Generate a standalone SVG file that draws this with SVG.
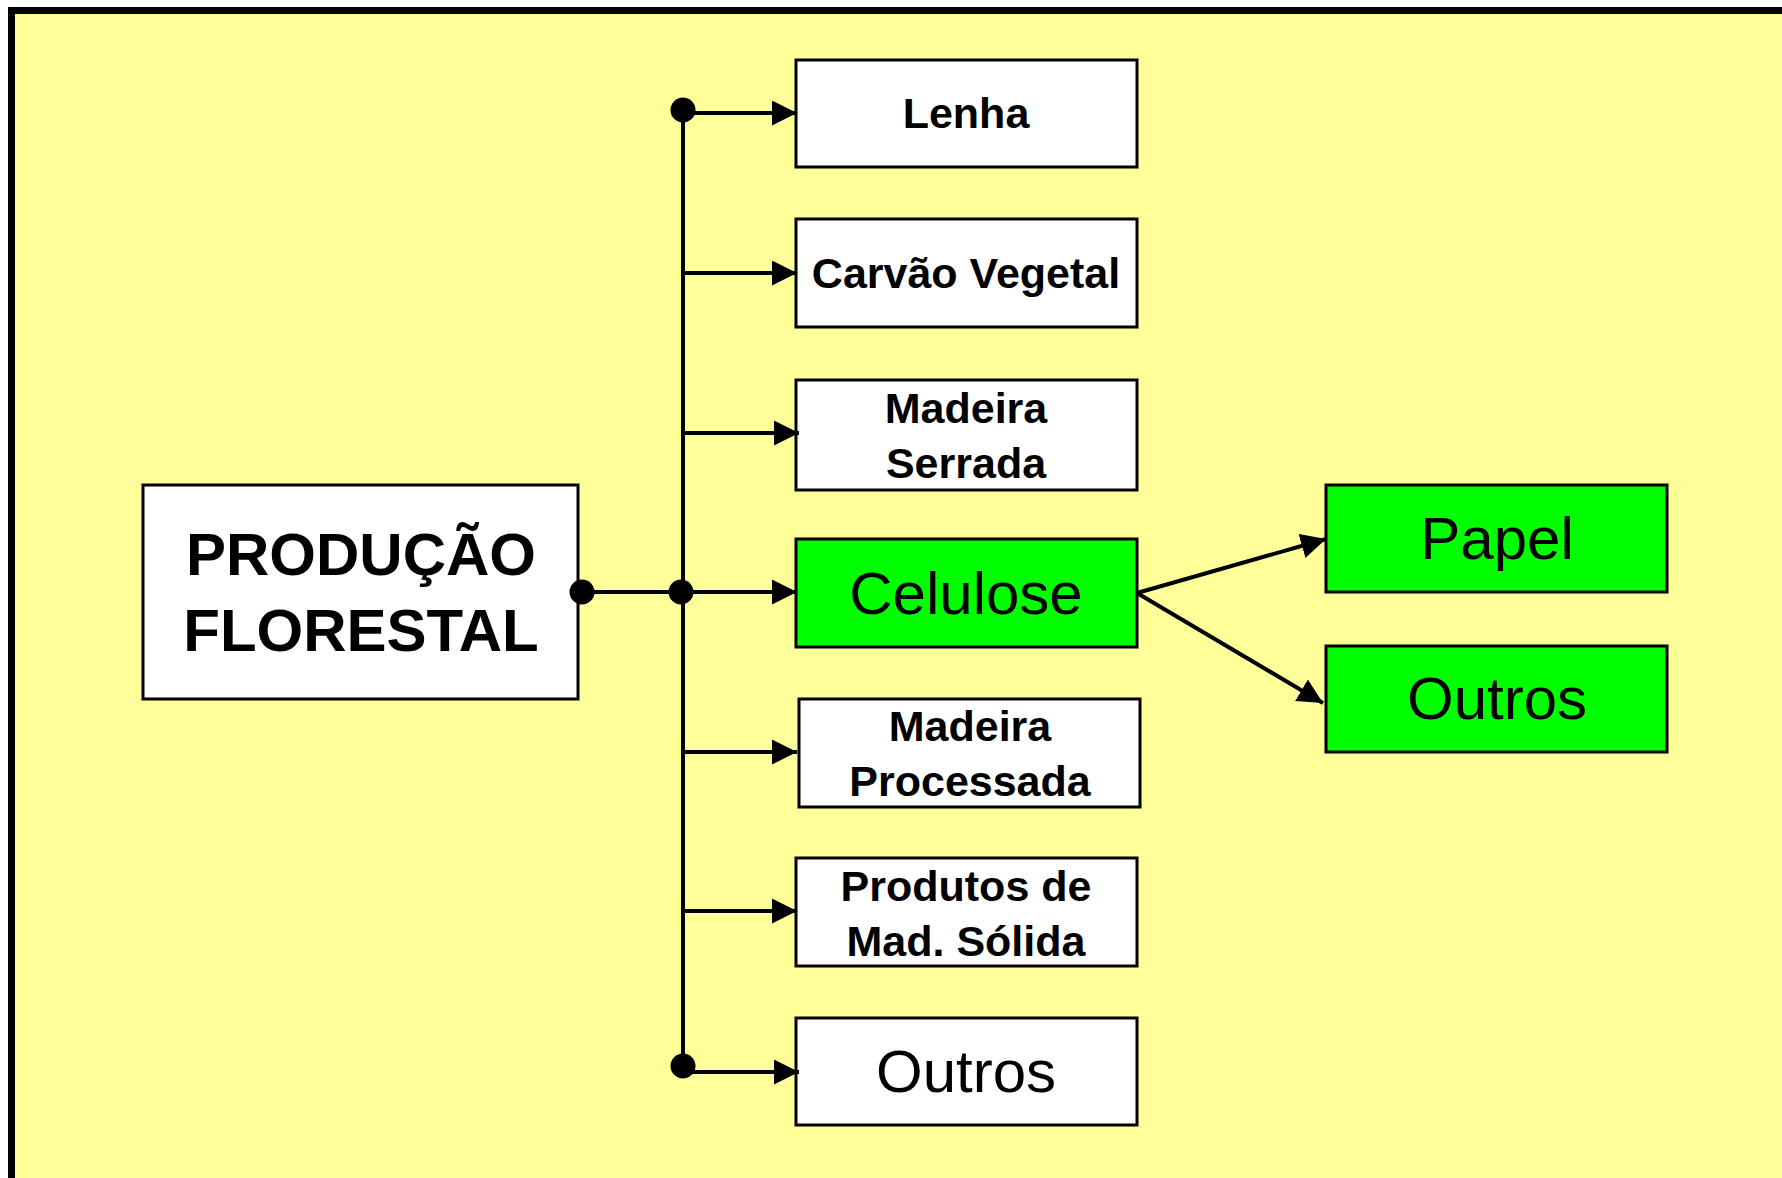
<svg xmlns="http://www.w3.org/2000/svg" width="1782" height="1178" viewBox="0 0 1782 1178">
  <style>
    .box { stroke: #000; stroke-width: 3; }
    .white { fill: #FFFFFF; }
    .green { fill: #00FF00; }
    .lbl { font-family: "Liberation Sans", Arial, sans-serif; font-weight: bold; font-size: 43px; fill: #000; text-anchor: middle; }
    .big { font-family: "Liberation Sans", Arial, sans-serif; font-size: 60px; fill: #000; text-anchor: middle; }
    .title { font-family: "Liberation Sans", Arial, sans-serif; font-weight: bold; font-size: 60px; fill: #000; text-anchor: middle; }
    .conn { stroke: #000; stroke-width: 4; fill: none; }
  </style>
  <defs>
    <marker id="arrow" markerUnits="userSpaceOnUse" markerWidth="26" markerHeight="26" refX="25" refY="12.5" orient="auto" viewBox="0 0 26 26">
      <path d="M0,0 L25,12.5 L0,25 z" fill="#000"/>
    </marker>
  </defs>
  <rect x="0" y="0" width="1782" height="1178" fill="#FFFFFF"/>
  <rect x="11.5" y="10.5" width="1800" height="1200" fill="#FFFF99" stroke="#000" stroke-width="7"/>

  <g id="producao-florestal">
    <rect class="box white" x="143" y="485" width="435" height="214"/>
    <text class="title" x="361" y="575">PRODUÇÃO</text>
    <text class="title" x="361" y="651">FLORESTAL</text>
  </g>
  <g id="lenha">
    <rect class="box white" x="796" y="60" width="341" height="107"/>
    <text class="lbl" x="966" y="128">Lenha</text>
  </g>
  <g id="carvao-vegetal">
    <rect class="box white" x="796" y="219" width="341" height="108"/>
    <text class="lbl" x="966" y="288">Carvão Vegetal</text>
  </g>
  <g id="madeira-serrada">
    <rect class="box white" x="796" y="380" width="341" height="110"/>
    <text class="lbl" x="966" y="423">Madeira</text>
    <text class="lbl" x="966" y="478">Serrada</text>
  </g>
  <g id="celulose">
    <rect class="box green" x="796" y="539" width="341" height="108"/>
    <text class="big" x="966" y="614">Celulose</text>
  </g>
  <g id="madeira-processada">
    <rect class="box white" x="799" y="699" width="341" height="108"/>
    <text class="lbl" x="970" y="741">Madeira</text>
    <text class="lbl" x="970" y="796">Processada</text>
  </g>
  <g id="produtos-mad-solida">
    <rect class="box white" x="796" y="858" width="341" height="108"/>
    <text class="lbl" x="966" y="901">Produtos de</text>
    <text class="lbl" x="966" y="956">Mad. Sólida</text>
  </g>
  <g id="outros">
    <rect class="box white" x="796" y="1018" width="341" height="107"/>
    <text class="big" x="966" y="1092">Outros</text>
  </g>
  <g id="papel">
    <rect class="box green" x="1326" y="485" width="341" height="107"/>
    <text class="big" x="1497" y="559">Papel</text>
  </g>
  <g id="outros-celulose">
    <rect class="box green" x="1326" y="646" width="341" height="106"/>
    <text class="big" x="1497" y="719">Outros</text>
  </g>

  <g id="connectors">
    <line class="conn" x1="683" y1="110" x2="683" y2="1066"/>
    <line class="conn" x1="582" y1="592" x2="683" y2="592"/>
    <line class="conn" x1="683" y1="113" x2="797" y2="113" marker-end="url(#arrow)"/>
    <line class="conn" x1="683" y1="273" x2="797" y2="273" marker-end="url(#arrow)"/>
    <line class="conn" x1="683" y1="433" x2="799" y2="433" marker-end="url(#arrow)"/>
    <line class="conn" x1="683" y1="592" x2="797" y2="592" marker-end="url(#arrow)"/>
    <line class="conn" x1="683" y1="752" x2="797" y2="752" marker-end="url(#arrow)"/>
    <line class="conn" x1="683" y1="911" x2="797" y2="911" marker-end="url(#arrow)"/>
    <line class="conn" x1="683" y1="1072" x2="799" y2="1072" marker-end="url(#arrow)"/>
    <line class="conn" x1="1137" y1="593" x2="1326" y2="539" marker-end="url(#arrow)"/>
    <line class="conn" x1="1137" y1="593" x2="1323" y2="703" marker-end="url(#arrow)"/>
    <circle cx="683" cy="110" r="12.5" fill="#000"/>
    <circle cx="683" cy="1066" r="12.5" fill="#000"/>
    <circle cx="681" cy="592" r="12.5" fill="#000"/>
    <circle cx="582" cy="592" r="12.5" fill="#000"/>
  </g>
</svg>
